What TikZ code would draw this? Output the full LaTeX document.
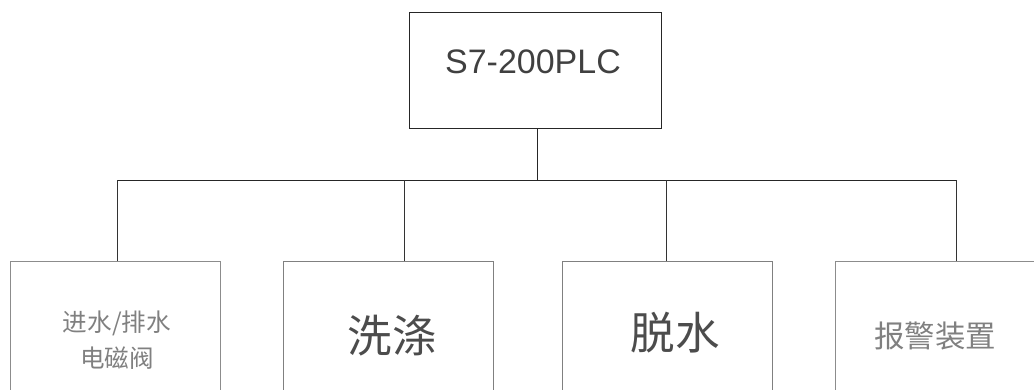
\documentclass[tikz,border=0pt]{standalone}
\usepackage{fontspec}
\setmainfont{Liberation Sans}
\newfontfamily\cjk{Noto Sans CJK SC}
\begin{document}
\begin{tikzpicture}[box/.style={draw=black!75,minimum width=6.3cm,minimum height=4.5cm,inner sep=0pt},line width=.6pt,x=0.03cm,y=-0.03cm]
\useasboundingbox (0,0) rectangle (1034,389);
\clip (0,0) rectangle (1034,389);

\node[draw=black!85,minimum width=7.56cm,minimum height=3.48cm,inner sep=0pt] (plc) at (535,70) {};
\node[text=black!75,font=\fontsize{29}{29}\selectfont] at (533,62) {S7-200PLC};

\node (s1) at (115,336) [box,draw=black!45] {};
\node[text=black!50,align=center,font=\cjk\fontsize{21}{31}\selectfont] at (117,340) {进水/排水\\电磁阀};

\node (s2) at (388,336) [box,draw=black!50] {};
\node[text=black!70,font=\cjk\fontsize{38}{38}\selectfont] at (392,336) {洗涤};

\node (s3) at (667,336) [box,draw=black!50] {};
\node[text=black!70,font=\cjk\fontsize{38}{38}\selectfont] at (675,333) {脱水};

\node (s4) at (940,336) [box,draw=black!45] {};
\node[text=black!50,font=\cjk\fontsize{26}{26}\selectfont] at (935,336) {报警装置};

\coordinate (bus) at (537,180);
\coordinate (d1) at (117,180);
\coordinate (d2) at (404,180);
\coordinate (d3) at (666,180);
\coordinate (d4) at (956,180);

\draw[black!85] (plc.south -| bus) -- (bus);
\draw[black!85] (d1) -- (d4);
\draw[black!80] (d1) -- (d1 |- s1.north);
\draw[black!80] (d2) -- (d2 |- s2.north);
\draw[black!80] (d3) -- (d3 |- s3.north);
\draw[black!80] (d4) -- (d4 |- s4.north);

\end{tikzpicture}
\end{document}
